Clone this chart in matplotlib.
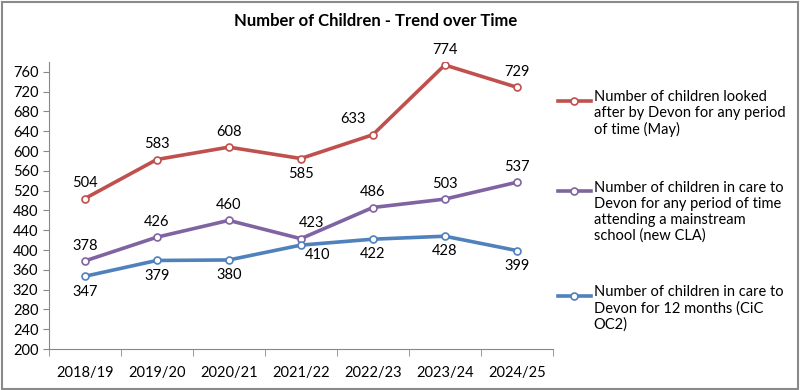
import matplotlib.pyplot as plt
from matplotlib.patches import Rectangle
from matplotlib.lines import Line2D

years = ['2018/19', '2019/20', '2020/21', '2021/22', '2022/23', '2023/24', '2024/25']
looked_after = [504, 583, 608, 585, 633, 774, 729]
mainstream = [378, 426, 460, 423, 486, 503, 537]
twelve_months = [347, 379, 380, 410, 422, 428, 399]

labels = ['Number of children looked\nafter by Devon for any period\nof time (May)',
          'Number of children in care to\nDevon for any period of time\nattending a mainstream\nschool (new CLA)',
          'Number of children in care to\nDevon for 12 months (CiC\nOC2)']
colors = ['#C0504D', '#8064A2', '#4F81BD']

plt.rcParams['font.family'] = ['Lato', 'DejaVu Sans']

fig = plt.figure(figsize=(8, 3.9), dpi=100)
ax = fig.add_axes([0.061, 0.105, 0.63, 0.736])

x = list(range(len(years)))
series = [looked_after, mainstream, twelve_months]
for vals, col in zip(series, colors):
    ax.plot(x, vals, color=col, lw=2.6, marker='o', ms=5,
            mfc='white', mec=col, mew=1.2)

# data labels
def lbl(i, v, dx, dy):
    ax.annotate(str(v), (i, v), xytext=(dx, dy), textcoords='offset points',
                ha='center', va='center', fontsize=10.5)

for i, v in enumerate(looked_after):
    if i == 3:
        lbl(i, v, 0, -11)
    elif i == 4:
        lbl(i, v, -14, 11)
    else:
        lbl(i, v, 0, 11)
for i, v in enumerate(mainstream):
    if i == 3:
        lbl(i, v, 8, 11)
    else:
        lbl(i, v, 0, 11)
for i, v in enumerate(twelve_months):
    if i == 3:
        lbl(i, v, 12, -7)
    else:
        lbl(i, v, 0, -11)

ax.set_xlim(-0.5, len(years) - 0.5)
ax.set_ylim(200, 780)
ax.set_yticks(range(200, 761, 40))
ax.set_xticks(x)
ax.set_xticklabels(years)
ax.set_xticks([i - 0.5 for i in range(len(years) + 1)], minor=True)
ax.tick_params(axis='x', which='major', length=0, pad=12, labelsize=10.5)
ax.tick_params(axis='x', which='minor', length=5, color='#888888')
ax.tick_params(axis='y', length=4, color='#888888', labelsize=10.5)
for s in ['top', 'right']:
    ax.spines[s].set_visible(False)
for s in ['left', 'bottom']:
    ax.spines[s].set_color('#888888')

fig.text(0.47, 0.945, 'Number of Children - Trend over Time', ha='center', va='center',
         fontsize=12, fontweight='bold')

# legend drawn by hand so the key sits beside the first line of each label
leg_y = [0.742, 0.509, 0.242]
for col, lab, y in zip(colors, labels, leg_y):
    fig.lines.append(Line2D([0.697, 0.739], [y, y], transform=fig.transFigure,
                            color=col, lw=2.6))
    fig.lines.append(Line2D([0.718], [y], transform=fig.transFigure, color=col,
                            marker='o', ms=5, mfc='white', mec=col, mew=1.2))
    fig.text(0.742, y + 0.026, lab, ha='left', va='top', fontsize=10.5,
             linespacing=1.15)

fig.patches.append(Rectangle((0.002, 0.003), 0.995, 0.993, transform=fig.transFigure,
                             fill=False, edgecolor='#8a8a8a', lw=1.5))

fig.savefig('out.png', dpi=100)
